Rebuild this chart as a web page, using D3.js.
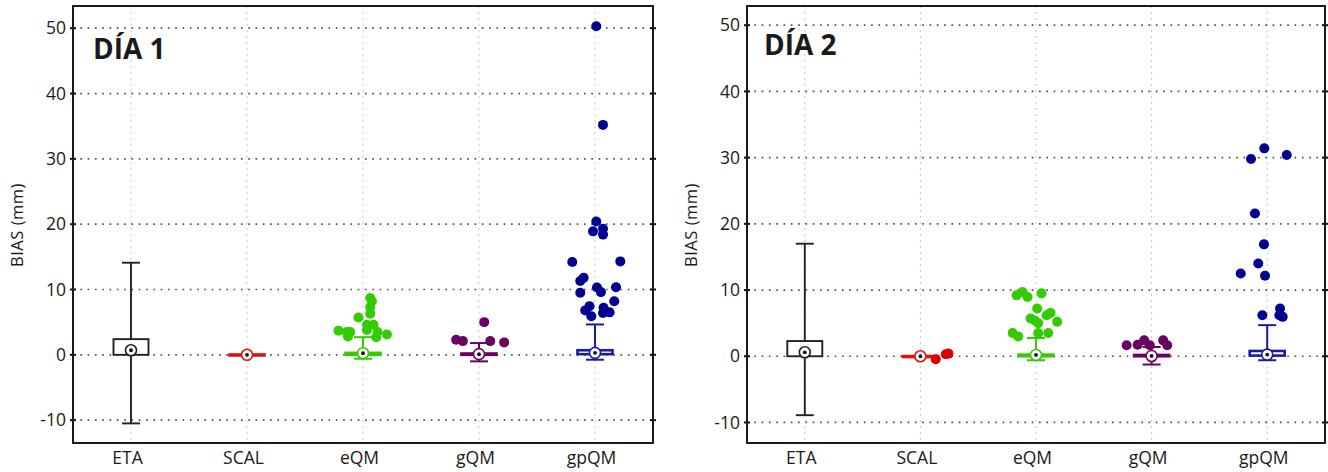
<!DOCTYPE html>
<html>
<head>
<meta charset="utf-8">
<script src="https://cdn.jsdelivr.net/npm/d3@7"></script>
<style>
  body { margin: 0; background: #fff; }
  text { font-family: "Open Sans", sans-serif; fill: #1a1a1a; }
</style>
</head>
<body>
<div id="chart"></div>
<script>
(function () {

  // categories and colours
  var categories = ["ETA", "SCAL", "eQM", "gQM", "gpQM"]
  var colors = ["#222222", "#e01010", "#33cc00", "#6a0062", "#1a1aa8"]
  var dotColors = ["#222222", "#dd0000", "#33cc00", "#6a0062", "#000090"]
  var yTicks = [-10, 0, 10, 20, 30, 40, 50]
  var titles = ["DÍA 1", "DÍA 2"]

  // box stats: [low whisker, q1, median, q3, high whisker]
  var day1Stats = [
    [-10.5, 0, 0.7, 2.4, 14.1],
    [0, 0, 0, 0.05, 0],
    [-0.6, 0, 0.25, 0.3, 2.7],
    [-1.0, 0, 0.1, 0.2, 1.8],
    [-0.75, 0.1, 0.3, 0.7, 4.65]
  ]
  var day2Stats = [
    [-8.9, 0, 0.6, 2.3, 17.0],
    [0, 0, 0, 0.03, 0],
    [-0.6, 0, 0.2, 0.25, 2.75],
    [-1.25, 0, 0.05, 0.2, 1.4],
    [-0.6, 0.1, 0.25, 0.8, 4.7]
  ]

  // outliers: [value, jitter as fraction of category step]
  var day1Outliers = [
    [],
    [],
    [[8.7, 0.062], [8.2, 0.077], [7.3, 0.062], [6.3, 0.062], [5.7, -0.039], [4.6, 0.034],
     [4.6, 0.091], [3.8, 0.034], [3.7, -0.211], [3.5, -0.139], [3.5, -0.11], [2.8, -0.13],
     [3.5, 0.125], [2.7, 0.114], [3.1, 0.206]],
    [[5.0, 0.045], [2.3, -0.197], [2.1, -0.139], [2.1, 0.097], [1.9, 0.217]],
    [[50.3, 0.011], [35.2, 0.069], [20.4, 0.011], [18.9, -0.017], [19.3, 0.069], [18.4, 0.069],
     [14.2, -0.196], [14.3, 0.218], [11.8, -0.098], [11.3, -0.127], [10.3, 0.017], [9.6, 0.051],
     [9.5, -0.127], [10.35, 0.181], [8.2, 0.166], [7.45, -0.047], [6.8, -0.084], [7.2, 0.074],
     [6.5, 0.126], [6.4, 0.069], [5.9, -0.032]]
  ]
  var day2Outliers = [
    [],
    [[-0.45, 0.133], [0.3, 0.22], [0.4, 0.243]],
    [[9.2, -0.168], [9.7, -0.116], [8.95, -0.073], [9.5, 0.048], [7.2, 0.01], [5.7, -0.047],
     [5.4, -0.01], [5.0, 0.019], [6.2, 0.092], [6.55, 0.126], [5.2, 0.183], [3.5, -0.202],
     [3.0, -0.154], [3.5, 0.019], [3.5, 0.106]],
    [[1.65, -0.216], [1.75, -0.121], [2.4, -0.064], [1.65, -0.015], [2.4, 0.1], [1.65, 0.135]],
    [[31.4, -0.025], [29.8, -0.14], [30.4, 0.169], [21.55, -0.106], [16.9, -0.028], [14.0, -0.077],
     [12.5, -0.229], [12.15, -0.019], [6.2, -0.042], [7.2, 0.111], [6.2, 0.105], [5.95, 0.134]]
  ]

  var width = 1328, height = 472

  var svg = d3.select("#chart").append("svg")
      .attr("width", width)
      .attr("height", height)

  var panels = [
    { left: 73, right: 653, top: 6, bottom: 443, yDomain: [-13.5, 53.4],
      stats: day1Stats, outliers: day1Outliers, title: titles[0], titleX: 20, titleY: 59, labelX: 17 },
    { left: 747, right: 1325, top: 6, bottom: 443, yDomain: [-13.1, 52.9],
      stats: day2Stats, outliers: day2Outliers, title: titles[1], titleX: 17, titleY: 55, labelX: 691 }
  ]

  panels.forEach(drawPanel)

  function drawPanel(p) {
    var xPositionScale = d3.scalePoint()
      .domain(categories)
      .range([p.left, p.right])
      .padding(0.5)

    var yPositionScale = d3.scaleLinear()
      .domain(p.yDomain)
      .range([p.bottom, p.top])

    var step = xPositionScale.step()
    var g = svg.append("g")

    // vertical grid
    g.selectAll(".vgrid")
      .data(categories)
      .enter().append("line")
      .attr("x1", function(d) { return xPositionScale(d) })
      .attr("x2", function(d) { return xPositionScale(d) })
      .attr("y1", p.top)
      .attr("y2", p.bottom)
      .attr("stroke", "#c8c8c8")
      .attr("stroke-width", 1)
      .attr("stroke-dasharray", "2,4")

    // horizontal grid
    g.selectAll(".hgrid")
      .data(yTicks)
      .enter().append("line")
      .attr("x1", p.left)
      .attr("x2", p.right)
      .attr("y1", function(d) { return yPositionScale(d) })
      .attr("y2", function(d) { return yPositionScale(d) })
      .attr("stroke", "#555")
      .attr("stroke-width", 1.7)
      .attr("stroke-dasharray", "1.7,5.6")

    // y axis labels
    var yAxis = d3.axisLeft(yPositionScale)
      .tickValues(yTicks)
      .tickFormat(function(d) { return String(d) })
      .tickSize(0)
      .tickPadding(7)
    var ya = g.append("g")
      .attr("transform", "translate(" + p.left + ",0)")
      .call(yAxis)
    ya.select(".domain").remove()
    ya.selectAll("text")
      .style("font-size", "17.5px")
      .style("font-family", "'Open Sans', sans-serif")
      .attr("fill", "#1a1a1a")

    // cross ticks on both sides
    ;[p.left, p.right].forEach(function(xx) {
      g.selectAll(null)
        .data(yTicks)
        .enter().append("line")
        .attr("x1", xx - 3)
        .attr("x2", xx + 3)
        .attr("y1", function(d) { return yPositionScale(d) })
        .attr("y2", function(d) { return yPositionScale(d) })
        .attr("stroke", "#111")
        .attr("stroke-width", 2)
    })

    // x axis labels
    var xAxis = d3.axisBottom(xPositionScale).tickSize(0).tickPadding(9)
    var xa = g.append("g")
      .attr("transform", "translate(0," + p.bottom + ")")
      .call(xAxis)
    xa.select(".domain").remove()
    xa.selectAll("text")
      .attr("dx", -4)
      .style("font-size", "17.5px")
      .style("font-family", "'Open Sans', sans-serif")
      .attr("fill", "#1a1a1a")

    // frame
    g.append("rect")
      .attr("x", p.left)
      .attr("y", p.top)
      .attr("width", p.right - p.left)
      .attr("height", p.bottom - p.top)
      .attr("fill", "none")
      .attr("stroke", "#1a1a1a")
      .attr("stroke-width", 2)

    // boxes
    var boxW = 35, capW = 18
    p.stats.forEach(function(s, i) {
      var cx = xPositionScale(categories[i])
      var col = colors[i]
      var bw = i === 0 ? 1.9 : 2
      var bg = g.append("g")
      bg.append("line")
        .attr("x1", cx).attr("x2", cx)
        .attr("y1", yPositionScale(s[0])).attr("y2", yPositionScale(s[4]))
        .attr("stroke", col).attr("stroke-width", bw)
      ;[s[0], s[4]].forEach(function(v) {
        if (s[0] === s[4]) return
        bg.append("line")
          .attr("x1", cx - capW / 2).attr("x2", cx + capW / 2)
          .attr("y1", yPositionScale(v)).attr("y2", yPositionScale(v))
          .attr("stroke", col).attr("stroke-width", bw)
      })
      var yTop = yPositionScale(s[3]), yBot = yPositionScale(s[1])
      bg.append("rect")
        .attr("x", cx - boxW / 2)
        .attr("y", yTop)
        .attr("width", boxW)
        .attr("height", Math.max(yBot - yTop, 1))
        .attr("fill", "#fff")
        .attr("stroke", col)
        .attr("stroke-width", i === 0 ? 1.9 : 2.6)
    })

    // outliers
    p.outliers.forEach(function(list, i) {
      var cx = xPositionScale(categories[i])
      g.selectAll(null)
        .data(list)
        .enter().append("circle")
        .attr("cx", function(d) { return cx + d[1] * step })
        .attr("cy", function(d) { return yPositionScale(d[0]) })
        .attr("r", 5)
        .attr("fill", dotColors[i])
    })

    // median markers
    p.stats.forEach(function(s, i) {
      var cx = xPositionScale(categories[i])
      var cy = yPositionScale(s[2])
      g.append("circle")
        .attr("cx", cx).attr("cy", cy).attr("r", 5.5)
        .attr("fill", "#fff")
        .attr("stroke", colors[i])
        .attr("stroke-width", 1.6)
      g.append("circle")
        .attr("cx", cx).attr("cy", cy).attr("r", 1.9)
        .attr("fill", "#111")
    })

    // title
    g.append("text")
      .attr("x", p.left + p.titleX)
      .attr("y", p.titleY)
      .style("font-size", "28px")
      .style("font-weight", "bold")
      .attr("fill", "#111")
      .text(p.title)

    // y label
    g.append("text")
      .attr("transform", "translate(" + (p.labelX + 6) + "," + 225 + ") rotate(-90)")
      .attr("text-anchor", "middle")
      .style("font-size", "16.5px")
      .style("letter-spacing", "0.5px")
      .text("BIAS (mm)")
  }

})()
</script>
</body>
</html>
